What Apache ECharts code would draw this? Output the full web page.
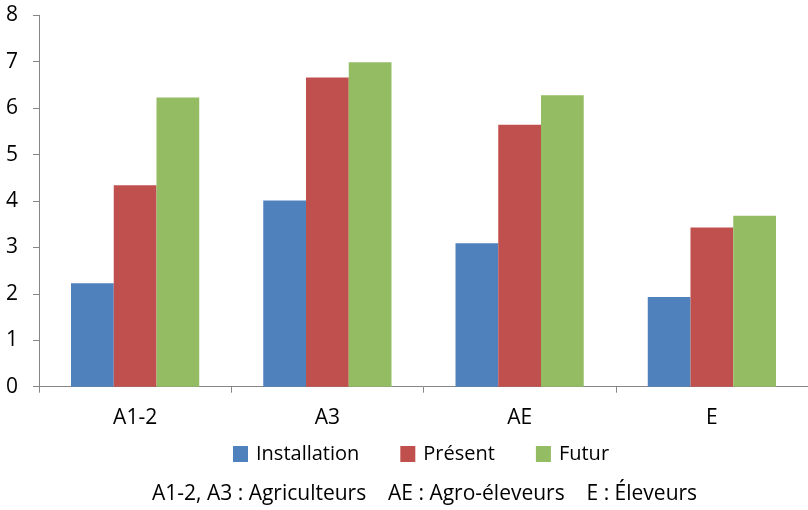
<!DOCTYPE html>
<html><head><meta charset="utf-8">
<script src="https://cdn.jsdelivr.net/npm/echarts@6/dist/echarts.min.js"></script>
<style>html,body{margin:0;padding:0;background:#fff}#c{width:808px;height:510px}</style>
</head><body><div id="c"></div>
<script>
var categories = ['A1-2', 'A3', 'AE', 'E'];
var installation = [2.23, 4.01, 3.09, 1.93];
var present = [4.34, 6.66, 5.64, 3.43];
var futur = [6.23, 6.99, 6.28, 3.68];
var seriesNames = ['Installation', 'Présent', 'Futur'];
var note = 'A1-2, A3 : Agriculteurs    AE : Agro-éleveurs    E : Éleveurs';

var FONT = '"Open Sans", sans-serif';
var chart = echarts.init(document.getElementById('c'), null, {renderer: 'canvas'});
var colors = ['#4F81BD', '#C0504D', '#93BC63'];
function mk(name, data, i) {
  return {name: name, type: 'bar', data: data, barGap: '0%', barCategoryGap: '33.3%',
    itemStyle: {color: colors[i]}};
}
chart.setOption({
  animation: false,
  textStyle: {fontFamily: FONT},
  grid: {left: 39, top: 15.3, width: 771, height: 371.4, containLabel: false},
  xAxis: {type: 'category', data: categories,
    axisLine: {lineStyle: {color: '#868686', width: 1}},
    axisTick: {show: true, length: 6, lineStyle: {color: '#868686'}},
    axisLabel: {color: '#000', fontSize: 21, fontFamily: FONT, margin: 21}},
  yAxis: {type: 'value', min: 0, max: 8, interval: 1,
    splitLine: {show: false},
    axisLine: {show: true, lineStyle: {color: '#868686', width: 1}},
    axisTick: {show: true, length: 6, lineStyle: {color: '#868686'}},
    axisLabel: {color: '#000', fontSize: 21, fontFamily: FONT, margin: 21}},
  legend: {data: seriesNames, top: 439, left: 228, itemWidth: 15, itemHeight: 16, itemGap: 41,
    icon: 'rect', textStyle: {fontSize: 20, fontFamily: FONT, color: '#000', padding: [0, 0, 0, 3]}},
  graphic: [{type: 'text', left: 152, top: 484,
    style: {text: note, fontSize: 21, fontFamily: FONT, fill: '#000', whiteSpace: 'pre'}}],
  series: [mk(seriesNames[0], installation, 0), mk(seriesNames[1], present, 1), mk(seriesNames[2], futur, 2)]
});
</script></body></html>
